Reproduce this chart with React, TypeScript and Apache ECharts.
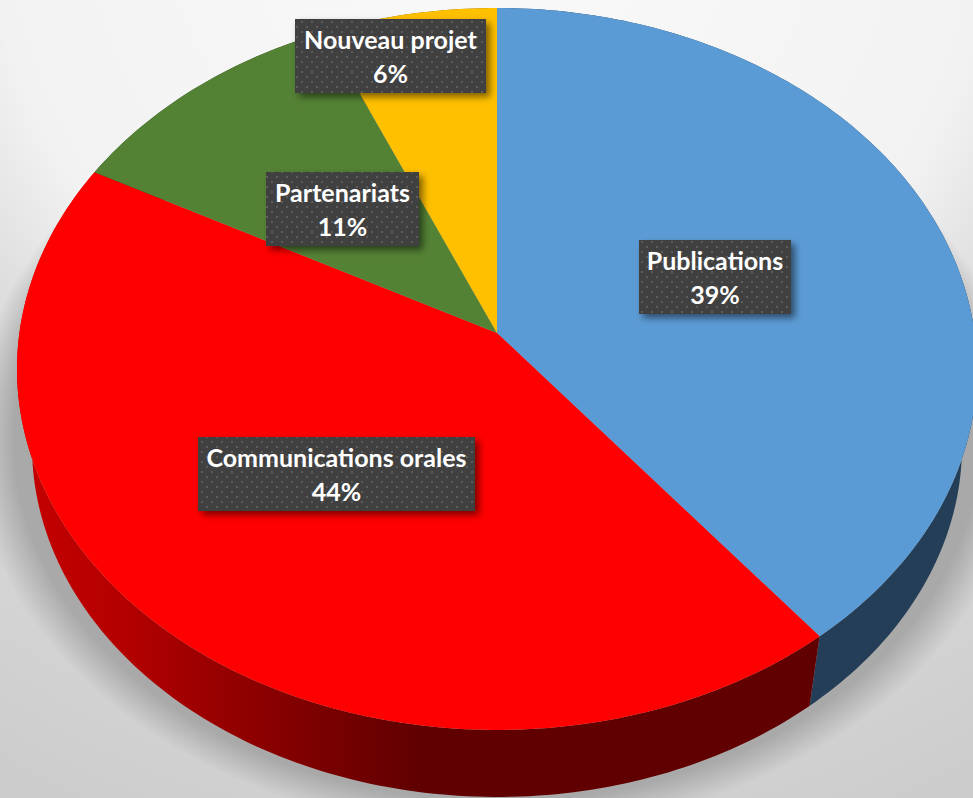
import React, { useEffect, useRef } from "react";
import * as echarts from "echarts";

const categories = ["Publications", "Communications orales", "Partenariats", "Nouveau projet"];
const shares = [39.3, 43.5, 10.75, 6.45];
const faceColors = ["#5b9bd5", "#ff0000", "#548235", "#ffc000"];

// layout of the tilted disc
const W = 973, H = 798;
const CX = 497, APEX_Y = 333, TOP_Y = 369, A = 480, B = 361;
const BOTTOM_Y = 446, BA = 465, BB = 351;
const K = 0.0997;
const PLANE_R = A * Math.sqrt(1 - K * K);
const PLANE_H = 325 * (1 + K);

const labelBoxes = [
  { x: 639, y: 240, w: 152, h: 74 },
  { x: 198, y: 437, w: 277, h: 74 },
  { x: 266, y: 172, w: 153, h: 74 },
  { x: 295, y: 19, w: 191, h: 74 },
];

const global = true;
const sideFills: any[] = [
  "#243e57",
  new echarts.graphic.LinearGradient(27, 0, 810, 0, [
    { offset: 0, color: "#c40000" },
    { offset: 0.12, color: "#b40000" },
    { offset: 0.33, color: "#840000" },
    { offset: 0.5, color: "#600000" },
    { offset: 1, color: "#600000" },
  ], global),
  "#2c451c",
  "#806000",
];

const dotTile =
  "data:image/svg+xml;utf8," +
  encodeURIComponent(
    '<svg xmlns="http://www.w3.org/2000/svg" width="10" height="10"><rect width="10" height="10" fill="#404040"/><rect x="1" y="1" width="2" height="2" fill="#5c5c5c"/><rect x="6" y="6" width="2" height="2" fill="#5c5c5c"/></svg>'
  );

function project(theta: number): [number, number] {
  const u = Math.sin(theta), v = Math.cos(theta);
  const d = 1 + K * v;
  return [CX + (PLANE_R * u) / d, APEX_Y - (PLANE_H * v) / d];
}

function toBottom(p: [number, number]): [number, number] {
  const sx = (p[0] - CX) / A, cy = (TOP_Y - p[1]) / B;
  return [CX + BA * sx, BOTTOM_Y - BB * cy];
}

function sliceAngles(dataIndex: number, value: number) {
  const total = shares.reduce((s, v) => s + v, 0);
  const before = shares.slice(0, dataIndex).reduce((s, v) => s + v, 0);
  const start = (before / total) * Math.PI * 2;
  return { start, end: start + (value / total) * Math.PI * 2 };
}

function arc(start: number, end: number) {
  const n = Math.max(8, Math.ceil(((end - start) * 180) / Math.PI));
  const pts: [number, number][] = [];
  for (let i = 0; i <= n; i++) pts.push(project(start + ((end - start) * i) / n));
  return pts;
}

const seriesData = categories.map((name, i) => ({ name, value: [shares[i]] }));

export default function App() {
  const ref = useRef<HTMLDivElement>(null);
  useEffect(() => {
    document.body.style.margin = "0";
    const chart = echarts.init(ref.current!, undefined, { renderer: "svg" });
    chart.setOption({
      animation: false,
      graphic: [
        {
          type: "rect",
          z: -10,
          silent: true,
          shape: { x: 0, y: 0, width: W, height: H },
          style: {
            fill: new echarts.graphic.RadialGradient(490, -100, 1000, [
              { offset: 0, color: "#fafafa" },
              { offset: 0.5, color: "#f2f2f2" },
              { offset: 0.62, color: "#dedede" },
              { offset: 0.9, color: "#d1d1d1" },
              { offset: 1, color: "#cccccc" },
            ], true),
          },
        },
        {
          type: "ellipse",
          z: -9,
          silent: true,
          shape: { cx: 497, cy: 437, rx: 525, ry: 395 },
          style: {
            fill: new echarts.graphic.RadialGradient(0.5, 0.5, 0.5, [
              { offset: 0, color: "rgba(169,169,169,1)" },
              { offset: 0.92, color: "rgba(169,169,169,1)" },
              { offset: 1, color: "rgba(169,169,169,0)" },
            ]),
          },
        },
      ],
      series: [
        {
          type: "custom",
          coordinateSystem: "none",
          silent: true,
          z: 2,
          data: seriesData,
          renderItem: (params: any, api: any) => {
            const { start, end } = sliceAngles(params.dataIndex, api.value(0));
            const top = arc(start, end);
            const bottom = top.map(toBottom).reverse();
            return {
              type: "polygon",
              shape: { points: [...top, ...bottom] },
              style: { fill: sideFills[params.dataIndex] },
            };
          },
        },
        {
          type: "custom",
          coordinateSystem: "none",
          silent: true,
          z: 3,
          data: seriesData,
          renderItem: (params: any, api: any) => {
            const { start, end } = sliceAngles(params.dataIndex, api.value(0));
            return {
              type: "polygon",
              shape: { points: [[CX, APEX_Y], ...arc(start, end)] },
              style: { fill: faceColors[params.dataIndex] },
            };
          },
        },
        {
          type: "custom",
          coordinateSystem: "none",
          silent: true,
          z: 4,
          data: seriesData,
          renderItem: (params: any, api: any) => {
            const b = labelBoxes[params.dataIndex];
            const mid = b.x + b.w / 2;
            const font = 'bold 25px Lato, "Open Sans", sans-serif';
            return {
              type: "group",
              children: [
                {
                  type: "rect",
                  shape: { x: b.x, y: b.y, width: b.w, height: b.h },
                  style: {
                    fill: "#404040",
                    shadowColor: "rgba(0,0,0,0.5)",
                    shadowBlur: 7,
                    shadowOffsetX: 4,
                    shadowOffsetY: 4,
                  },
                },
                {
                  type: "rect",
                  shape: { x: b.x, y: b.y, width: b.w, height: b.h },
                  style: {
                    fill: { image: dotTile, repeat: "repeat", imageWidth: 10, imageHeight: 10 },
                  },
                },
                {
                  type: "text",
                  style: {
                    text: categories[params.dataIndex],
                    x: mid, y: b.y + 20, align: "center", verticalAlign: "middle",
                    fill: "#ffffff", font,
                  },
                },
                {
                  type: "text",
                  style: {
                    text: Math.round(api.value(0)) + "%",
                    x: mid, y: b.y + 54, align: "center", verticalAlign: "middle",
                    fill: "#ffffff", font,
                  },
                },
              ],
            };
          },
        },
      ],
    });
    return () => chart.dispose();
  }, []);
  return <div ref={ref} style={{ width: W, height: H, overflow: "hidden" }} />;
}
